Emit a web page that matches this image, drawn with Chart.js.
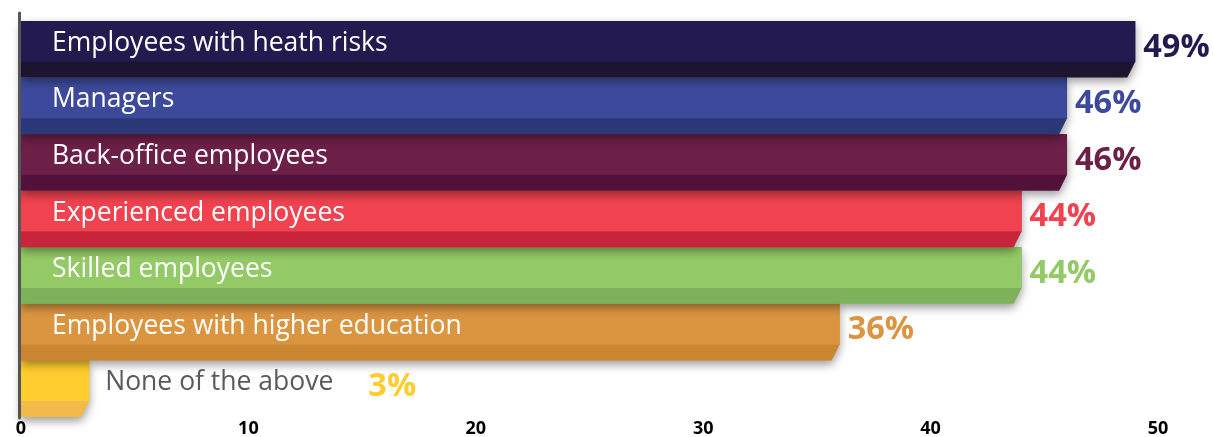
<!DOCTYPE html>
<html>
<head>
<meta charset="utf-8">
<script src="https://cdn.jsdelivr.net/npm/chart.js@4"></script>
<style>
  html, body { margin: 0; padding: 0; background: #ffffff; }
  #wrap { width: 1214px; height: 437px; }
</style>
</head>
<body>
<div id="wrap"><canvas id="c" width="1214" height="437"></canvas></div>
<script>
const categories = [
  'Employees with heath risks',
  'Managers',
  'Back-office employees',
  'Experienced employees',
  'Skilled employees',
  'Employees with higher education',
  'None of the above'
];
const values = [49, 46, 46, 44, 44, 36, 3];
const valueLabels = ['49%', '46%', '46%', '44%', '44%', '36%', '3%'];
const tickLabels = ['0', '10', '20', '30', '40', '50'];
const faceColors = ['#231B4F', '#3D4A9B', '#6C1F47', '#F0424F', '#93CA66', '#DB9541', '#FFCD2F'];
const edgeColors = ['#1B152F', '#2C3779', '#52113A', '#C8243A', '#7DB15A', '#CB8631', '#F2B94B'];

const FONT = "'Open Sans', 'Noto Sans', sans-serif";

const bar3d = {
  id: 'bar3d',
  afterDatasetsDraw(chart) {
    const ctx = chart.ctx;
    const meta = chart.getDatasetMeta(0);
    const n = meta.data.length;
    for (let i = n - 1; i >= 0; i--) {
      const el = meta.data[i];
      const x = el.x, base = el.base, h = el.height;
      const top = el.y - h / 2, bottom = el.y + h / 2;
      const faceH = h * 0.72;
      const stripTop = top + faceH;
      const slant = (bottom - stripTop) * 0.5;
      ctx.save();
      ctx.shadowColor = 'rgba(0,0,0,0.4)';
      ctx.shadowBlur = 10;
      ctx.shadowOffsetY = 4;
      ctx.shadowOffsetX = 0;
      ctx.beginPath();
      ctx.moveTo(base, top);
      ctx.lineTo(x, top);
      ctx.lineTo(x, stripTop);
      ctx.lineTo(x - slant, bottom);
      ctx.lineTo(base, bottom);
      ctx.closePath();
      ctx.fillStyle = edgeColors[i];
      ctx.fill();
      ctx.restore();
      ctx.save();
      ctx.fillStyle = faceColors[i];
      ctx.fillRect(base, top, x - base, faceH);
      ctx.restore();
    }
    // labels
    for (let i = 0; i < n; i++) {
      const el = meta.data[i];
      const x = el.x, base = el.base, h = el.height;
      const top = el.y - h / 2;
      const faceMid = top + h * 0.36;
      ctx.save();
      ctx.textBaseline = 'middle';
      ctx.textAlign = 'left';
      ctx.font = '400 26.5px ' + FONT;
      const inside = (x - base) > 300;
      let lx = inside ? base + 31 : x + 16;
      ctx.fillStyle = inside ? '#FFFFFF' : '#5A5A5A';
      ctx.fillText(categories[i], lx, faceMid + 2);
      const tw = ctx.measureText(categories[i]).width;
      ctx.font = '700 32.5px ' + FONT;
      ctx.fillStyle = faceColors[i];
      const vx = inside ? x + 8 : lx + tw + 35;
      ctx.fillText(valueLabels[i], vx, el.y - 2);
      ctx.restore();
    }
    // left axis line
    const area = chart.chartArea;
    ctx.save();
    ctx.strokeStyle = '#555555';
    ctx.lineWidth = 3;
    ctx.lineCap = 'round';
    ctx.beginPath();
    ctx.moveTo(area.left - 1.5, 13);
    ctx.lineTo(area.left - 1.5, area.bottom + 1);
    ctx.stroke();
    ctx.restore();
  }
};

new Chart(document.getElementById('c'), {
  type: 'bar',
  data: {
    labels: categories,
    datasets: [{
      data: values,
      backgroundColor: 'rgba(0,0,0,0)',
      borderWidth: 0,
      categoryPercentage: 1,
      barPercentage: 1
    }]
  },
  options: {
    indexAxis: 'y',
    responsive: false,
    animation: false,
    layout: { padding: { left: 21, right: 56, top: 21, bottom: 0 } },
    plugins: { legend: { display: false }, tooltip: { enabled: false } },
    scales: {
      x: {
        min: 0, max: 50,
        grid: { display: false, drawTicks: false },
        border: { display: false },
        afterFit(scale) { scale.height = 20; },
        afterBuildTicks(scale) {
          scale.ticks = tickLabels.map(t => ({ value: Number(t) }));
        },
        ticks: {
          padding: 1,
          color: '#000000',
          font: { family: FONT, size: 18, weight: '700' },
          callback: (v, idx) => tickLabels[idx]
        }
      },
      y: { display: false }
    }
  },
  plugins: [bar3d]
});
</script>
</body>
</html>
